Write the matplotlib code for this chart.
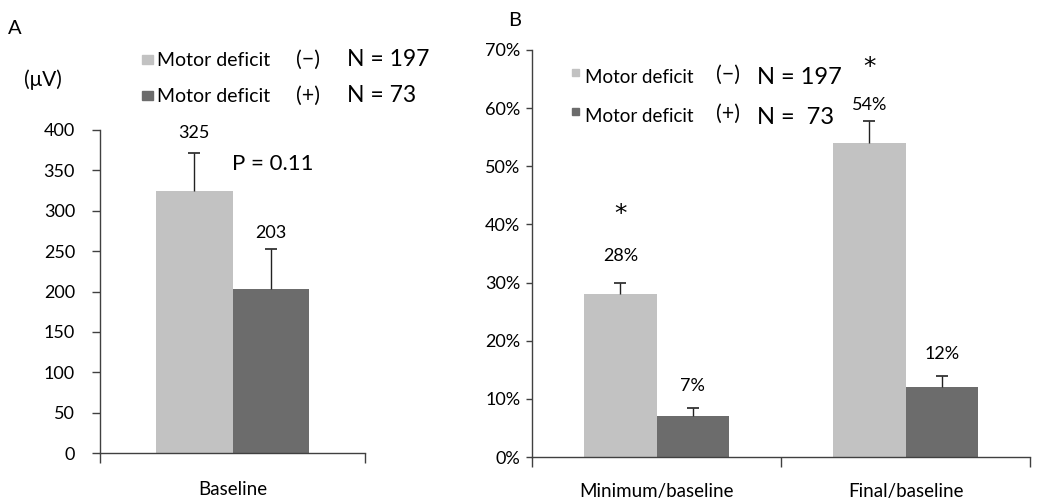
import matplotlib
matplotlib.use("Agg")
import matplotlib.pyplot as plt
from matplotlib.patches import Rectangle
import numpy as np

plt.rcParams['font.family'] = ['Lato', 'DejaVu Sans']

# Panel A data
a_categories = ["Baseline"]
a_no_deficit = [325]
a_no_deficit_err = [47]
a_deficit = [203]
a_deficit_err = [50]
a_yticks = [0, 50, 100, 150, 200, 250, 300, 350, 400]

# Panel B data (percent)
b_categories = ["Minimum/baseline", "Final/baseline"]
b_no_deficit = [28, 54]
b_no_deficit_err = [2, 3.8]
b_deficit = [7, 12]
b_deficit_err = [1.5, 2]
b_yticks = [0, 10, 20, 30, 40, 50, 60, 70]
b_signif = [True, True]

legend_labels = ["Motor deficit", "Motor deficit"]
legend_signs = ["(\u2212)", "(+)"]
legend_n_a = ["N = 197", "N = 73"]
legend_n_b = ["N = 197", "N =  73"]

light = "#c2c2c2"
dark = "#6c6c6c"

fig = plt.figure(figsize=(10.39, 4.99), dpi=100)
W, H = 1039, 499

def ax_rect(l, r, top, bot):
    return [l / W, 1 - bot / H, (r - l) / W, (bot - top) / H]

bw = 0.29

def style(ax, xpad, ylen, ypad):
    for s in ["top", "right"]:
        ax.spines[s].set_visible(False)
    for s in ["left", "bottom"]:
        ax.spines[s].set_color("#404040")
        ax.spines[s].set_linewidth(1.0)
    ax.tick_params(axis="y", direction="out", length=ylen, width=1, color="#404040",
                   labelsize=13, pad=ypad)
    ax.tick_params(axis="x", which="major", direction="out", length=7, width=1,
                   color="#404040", labelbottom=False)
    ax.tick_params(axis="x", which="minor", length=0, labelsize=13.5, pad=xpad)

def errbars(ax, x, y, e):
    ax.vlines(x, y, np.asarray(y) + np.asarray(e), color="#222222", linewidth=1)
    ax.plot(x, np.asarray(y) + np.asarray(e), linestyle="none", marker="_",
            markersize=8, markeredgewidth=1.2, color="#222222")

# ---------- Panel A ----------
axA = fig.add_axes(ax_rect(100, 365, 130, 453))
xa = np.arange(len(a_categories))
axA.bar(xa - bw / 2, a_no_deficit, bw, color=light, edgecolor="none")
axA.bar(xa + bw / 2, a_deficit, bw, color=dark, edgecolor="none")
errbars(axA, xa - bw / 2, a_no_deficit, a_no_deficit_err)
errbars(axA, xa + bw / 2, a_deficit, a_deficit_err)
axA.set_xlim(-0.5, len(a_categories) - 0.5)
axA.set_ylim(0, 400)
axA.set_yticks(a_yticks)
axA.set_xticks(np.arange(len(a_categories) + 1) - 0.5)
axA.set_xticks(xa, minor=True)
axA.set_xticklabels(a_categories, minor=True)
style(axA, 20, 6, 12)
for i in range(len(xa)):
    axA.text(xa[i] - bw / 2, a_no_deficit[i] + a_no_deficit_err[i] + 24,
             f"{a_no_deficit[i]}", ha="center", va="center", fontsize=13)
    axA.text(xa[i] + bw / 2, a_deficit[i] + a_deficit_err[i] + 20,
             f"{a_deficit[i]}", ha="center", va="center", fontsize=13)
axA.text(0.0, 358, "P = 0.11", ha="left", va="center", fontsize=16)

fig.text(8 / W, 1 - 29 / H, "A", fontsize=14.5, va="center", ha="left")
fig.text(24 / W, 1 - 80 / H, "(\u03bcV)", fontsize=15, va="center", ha="left")

# legend A
for i, yy in enumerate([60, 96]):
    col = light if i == 0 else dark
    fig.patches.append(Rectangle((142 / W, 1 - (yy + 4) / H), 11 / W, 9 / H,
                                 transform=fig.transFigure, color=col))
    fig.text(157 / W, 1 - yy / H, legend_labels[i], fontsize=14, va="center")
    fig.text(296 / W, 1 - yy / H, legend_signs[i], fontsize=15.5, va="center")
    fig.text(347 / W, 1 - yy / H, legend_n_a[i], fontsize=16.5, va="center")

# ---------- Panel B ----------
axB = fig.add_axes(ax_rect(532, 1030, 50, 457))
xb = np.arange(len(b_categories))
axB.bar(xb - bw / 2, b_no_deficit, bw, color=light, edgecolor="none")
axB.bar(xb + bw / 2, b_deficit, bw, color=dark, edgecolor="none")
errbars(axB, xb - bw / 2, b_no_deficit, b_no_deficit_err)
errbars(axB, xb + bw / 2, b_deficit, b_deficit_err)
axB.set_xlim(-0.5, len(b_categories) - 0.5)
axB.set_ylim(0, 70)
axB.set_yticks(b_yticks)
axB.set_yticklabels([f"{t}%" for t in b_yticks])
axB.set_xticks(np.arange(len(b_categories) + 1) - 0.5)
axB.set_xticks(xb, minor=True)
axB.set_xticklabels(b_categories, minor=True)
style(axB, 19, 4, 4.5)
star_off = [11.8, 9.2]
lab_off = [4.6, 2.8]
for i in range(len(xb)):
    top_l = b_no_deficit[i] + b_no_deficit_err[i]
    axB.text(xb[i] - bw / 2, top_l + lab_off[i], f"{b_no_deficit[i]}%",
             ha="center", va="center", fontsize=13)
    if b_signif[i]:
        axB.text(xb[i] - bw / 2, top_l + star_off[i], "*", ha="center",
                 va="center", fontsize=18, family="DejaVu Sans")
    axB.text(xb[i] + bw / 2, b_deficit[i] + b_deficit_err[i] + 3.7,
             f"{b_deficit[i]}%", ha="center", va="center", fontsize=13)

fig.text(508 / W, 1 - 20 / H, "B", fontsize=14.5, va="center", ha="left")

# legend B
for i, yy in enumerate([78, 117]):
    col = light if i == 0 else dark
    fig.patches.append(Rectangle((572 / W, 1 - (yy - 2) / H), 7 / W, 7 / H,
                                 transform=fig.transFigure, color=col))
    fig.text(585 / W, 1 - yy / H, legend_labels[i], fontsize=13.5, va="center")
    fig.text(716 / W, 1 - (yy - 3) / H, legend_signs[i], fontsize=15.5, va="center")
    fig.text(757 / W, 1 - yy / H, legend_n_b[i], fontsize=17, va="center")

fig.savefig("out.png", dpi=100)
